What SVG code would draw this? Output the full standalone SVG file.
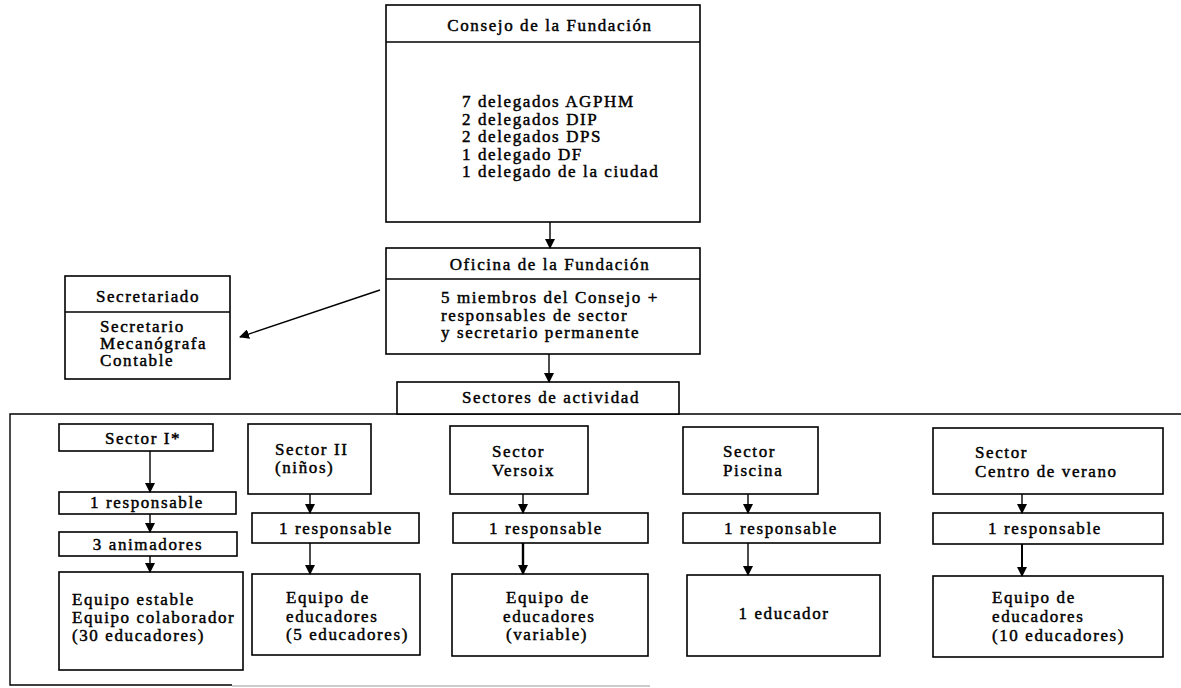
<svg xmlns="http://www.w3.org/2000/svg" width="1181" height="688" viewBox="0 0 1181 688">
<defs>
<marker id="ah" markerWidth="10" markerHeight="10" refX="9" refY="5" orient="auto" markerUnits="userSpaceOnUse">
<path d="M0,0 L10,5 L0,10 Z" fill="#000"/>
</marker>
<style>
rect{fill:#fff;stroke:#000;stroke-width:1.6}
text{font-family:'Liberation Serif','Times New Roman',serif;font-size:17px;fill:#000;stroke:#000;stroke-width:0.45;letter-spacing:1.6px}
.c{text-anchor:middle}
.ln{stroke:#000;stroke-width:1.4;fill:none}
.cn line{stroke:#000;stroke-width:1.4;marker-end:url(#ah)}
</style>
</defs>
<rect width="1181" height="688" style="fill:#fff;stroke:none"/>

<g id="frame">
<path class="ln" d="M1181,414 H10 V685 H232"/>
<path d="M232,686 H650" style="stroke:#bbb;stroke-width:1.4;fill:none"/>
</g>

<g id="consejo">
<rect x="386" y="5" width="314" height="217"/>
<line class="ln" x1="386" y1="42" x2="700" y2="42"/>
<text class="c" x="550" y="31">Consejo de la Fundación</text>
<text x="462" y="107">7 delegados AGPHM<tspan x="462" dy="17.5">2 delegados DIP</tspan><tspan x="462" dy="17.5">2 delegados DPS</tspan><tspan x="462" dy="17.5">1 delegado DF</tspan><tspan x="462" dy="17.5">1 delegado de la ciudad</tspan></text>
</g>

<g id="oficina">
<rect x="386" y="248" width="314" height="106"/>
<line class="ln" x1="386" y1="279" x2="700" y2="279"/>
<text class="c" x="550" y="270">Oficina de la Fundación</text>
<text x="441" y="303">5 miembros del Consejo +<tspan x="441" dy="17.5">responsables de sector</tspan><tspan x="441" dy="17.5">y secretario permanente</tspan></text>
</g>

<g id="secretariado">
<rect x="65" y="276" width="165" height="103"/>
<line class="ln" x1="65" y1="312" x2="230" y2="312"/>
<text class="c" x="148" y="302">Secretariado</text>
<text x="100" y="332">Secretario<tspan x="100" dy="17">Mecanógrafa</tspan><tspan x="100" dy="17">Contable</tspan></text>
</g>

<g id="sectores">
<rect x="397" y="382" width="282" height="32"/>
<text class="c" x="551" y="403">Sectores de actividad</text>
</g>

<g id="sector1">
<rect x="59" y="424" width="154" height="27"/>
<text class="c" x="143" y="444">Sector I*</text>
</g>
<g id="s1resp">
<rect x="59" y="492" width="177" height="22"/>
<text class="c" x="147" y="508">1 responsable</text>
</g>
<g id="s1anim">
<rect x="59" y="532" width="178" height="24"/>
<text class="c" x="148" y="550">3 animadores</text>
</g>
<g id="s1equipo">
<rect x="59" y="572" width="184" height="98"/>
<text x="72" y="605">Equipo estable<tspan x="72" dy="18">Equipo colaborador</tspan><tspan x="72" dy="18">(30 educadores)</tspan></text>
</g>

<g id="sector2">
<rect x="248" y="424" width="123" height="70"/>
<text x="275" y="455">Sector II<tspan x="275" dy="18">(niños)</tspan></text>
</g>
<g id="s2resp">
<rect x="252" y="513" width="167" height="30"/>
<text class="c" x="336" y="534">1 responsable</text>
</g>
<g id="s2equipo">
<rect x="252" y="574" width="168" height="81"/>
<text x="286" y="603">Equipo de<tspan x="286" dy="18.5">educadores</tspan><tspan x="286" dy="18.5">(5 educadores)</tspan></text>
</g>

<g id="versoix">
<rect x="450" y="426" width="138" height="68"/>
<text x="492" y="457">Sector<tspan x="492" dy="18.5">Versoix</tspan></text>
</g>
<g id="vresp">
<rect x="453" y="513" width="195" height="30"/>
<text class="c" x="546" y="534">1 responsable</text>
</g>
<g id="vequipo">
<rect x="452" y="574" width="196" height="82"/>
<text x="506" y="603">Equipo de<tspan x="503" dy="18.5">educadores</tspan><tspan x="506" dy="18.5">(variable)</tspan></text>
</g>

<g id="piscina">
<rect x="683" y="427" width="135" height="67"/>
<text x="723" y="457">Sector<tspan x="723" dy="18.5">Piscina</tspan></text>
</g>
<g id="presp">
<rect x="683" y="513" width="197" height="30"/>
<text class="c" x="781" y="534">1 responsable</text>
</g>
<g id="peducador">
<rect x="687" y="575" width="193" height="81"/>
<text class="c" x="784" y="619">1 educador</text>
</g>

<g id="centro">
<rect x="933" y="428" width="230" height="66"/>
<text x="975" y="458">Sector<tspan x="975" dy="19">Centro de verano</tspan></text>
</g>
<g id="cresp">
<rect x="933" y="513" width="230" height="31"/>
<text class="c" x="1045" y="534">1 responsable</text>
</g>
<g id="cequipo">
<rect x="933" y="576" width="230" height="81"/>
<text x="992" y="603">Equipo de<tspan x="992" dy="19">educadores</tspan><tspan x="992" dy="19">(10 educadores)</tspan></text>
</g>

<g id="connectors" class="cn">
<line x1="550" y1="222" x2="550" y2="248"/>
<line x1="549" y1="354" x2="549" y2="382"/>
<line x1="380" y1="290" x2="240" y2="337"/>
<line x1="150" y1="451" x2="150" y2="492"/>
<line x1="150" y1="514" x2="150" y2="532"/>
<line x1="150" y1="556" x2="150" y2="572"/>
<line x1="310" y1="494" x2="310" y2="513"/>
<line x1="310" y1="543" x2="310" y2="574"/>
<line x1="523" y1="494" x2="523" y2="513"/>
<line x1="523" y1="543" x2="523" y2="574" style="stroke-width:2.4"/>
<line x1="748" y1="494" x2="748" y2="513"/>
<line x1="748" y1="543" x2="748" y2="575"/>
<line x1="1022" y1="494" x2="1022" y2="513"/>
<line x1="1022" y1="544" x2="1022" y2="576" style="stroke-width:2"/>
</g>
</svg>
